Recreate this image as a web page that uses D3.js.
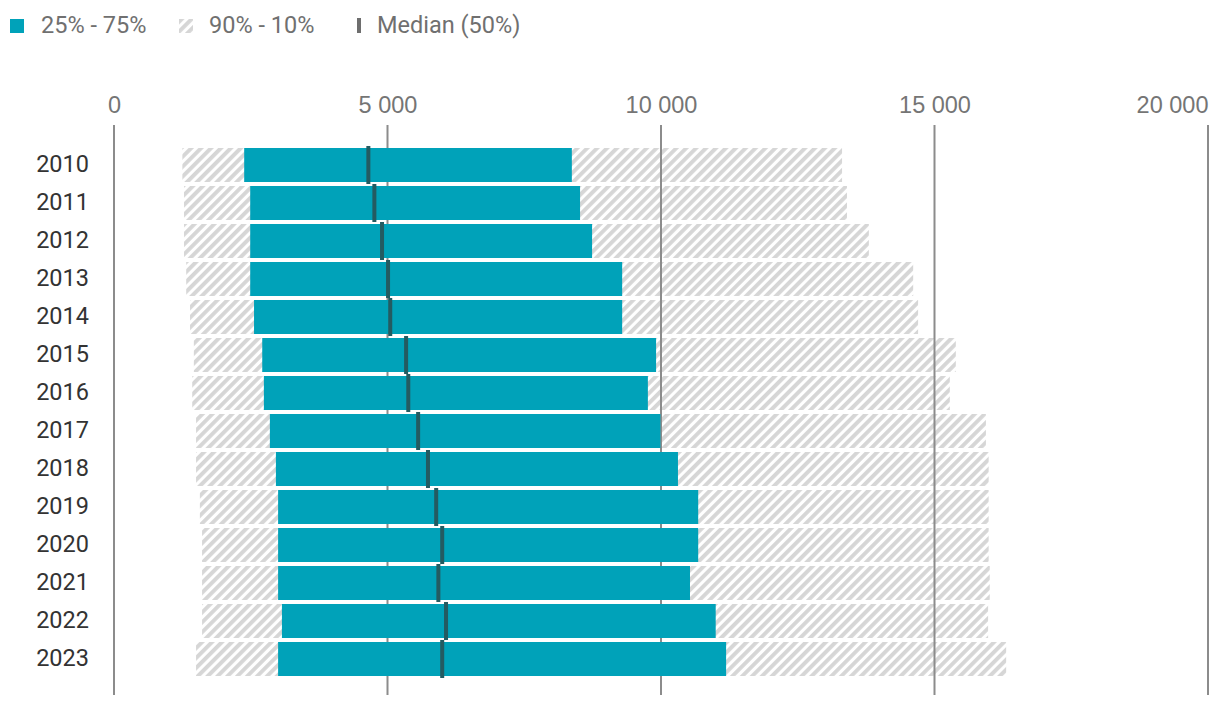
<!DOCTYPE html>
<html>
<head>
<meta charset="utf-8">
<script src="https://cdn.jsdelivr.net/npm/d3@7"></script>
<style>
  body { margin: 0; background: #fff; font-family: Roboto, "Noto Sans", sans-serif; }
  .axis text { fill: #757575; font-size: 23.5px; }
  .axis .domain { display: none; }
  .years text { fill: #333; font-size: 23.5px; }
  .legend text { fill: #707070; font-size: 23.5px; }
</style>
</head>
<body>
<div class="chart-container"></div>
<script>
// values
var years = ["2010","2011","2012","2013","2014","2015","2016","2017","2018","2019","2020","2021","2022","2023"]
var p10 = [1250,1280,1280,1320,1390,1460,1430,1500,1500,1570,1610,1610,1610,1500]
var p25 = [2380,2490,2490,2490,2560,2710,2740,2850,2960,3000,3000,3000,3070,3000]
var p50 = [4650,4760,4900,5010,5050,5340,5380,5560,5740,5890,6000,5930,6070,6000]
var p75 = [8370,8520,8740,9290,9290,9910,9760,9990,10310,10680,10680,10530,11000,11190]
var p90 = [13310,13400,13800,14610,14700,15390,15280,15940,15990,15990,15990,16010,15980,16310]
var tick_values = [0,5000,10000,15000,20000]
var legend_labels = ["25% - 75%","90% - 10%","Median (50%)"]

var width = 1220
var height = 706
var teal = "#00a2b9"
var median_color = "#245b61"
var grid_color = "#8c8c8c"

var rows = years.map(function(y,i){
    return {year: y, p10: p10[i], p25: p25[i], p50: p50[i], p75: p75[i], p90: p90[i]}
})

var locale = d3.formatLocale({decimal: ",", thousands: " ", grouping: [3], currency: ["",""]})
var num_format = locale.format(",d")

var x_scale = d3.scaleLinear()
                .domain([0,20000])
                .range([114,1208])
var y_scale = d3.scaleBand()
                .domain(years)
                .range([146,678])
                .paddingInner(0.105)
                .paddingOuter(0.0525)

var svg = d3.select('.chart-container')
    .append('svg')
    .attr('width',width)
    .attr('height',height)

// hatch pattern for the 10-90 range
var defs = svg.append('defs')
defs.append('pattern')
    .attr('id','hatch')
    .attr('patternUnits','userSpaceOnUse')
    .attr('width',7)
    .attr('height',7)
    .attr('patternTransform','rotate(45)')
    .append('rect')
    .attr('x',0)
    .attr('y',0)
    .attr('width',3.9)
    .attr('height',7)
    .attr('fill','#d6d6d6')

// legend
var legend = svg.append('g').attr('class','legend')
legend.append('rect').attr('x',10).attr('y',19).attr('width',14).attr('height',14).attr('fill',teal)
legend.append('rect').attr('x',179).attr('y',19).attr('width',14).attr('height',14).attr('fill','url(#hatch)')
legend.append('rect').attr('x',357).attr('y',18).attr('width',4).attr('height',15).attr('fill','#6e6e6e')
legend.selectAll('text')
    .data(legend_labels)
    .enter()
    .append('text')
    .attr('x',function(d,i){return [41,209,377][i]})
    .attr('y',33)
    .text(function(d){return d})

// top axis labels
var axis = svg.append('g')
    .attr('class','axis')
    .attr('transform','translate(0,113)')
    .call(d3.axisTop(x_scale).tickValues(tick_values).tickSize(0).tickPadding(0).tickFormat(num_format))
axis.selectAll('text')
    .attr('text-anchor',function(d,i){return i==tick_values.length-1 ? 'end' : 'middle'})

// 10-90 hatched bars
svg.append('g')
    .selectAll('rect')
    .data(rows)
    .enter()
    .append('rect')
    .attr('x',function(d){return x_scale(d.p10)})
    .attr('y',function(d){return y_scale(d.year)})
    .attr('width',function(d){return x_scale(d.p90)-x_scale(d.p10)})
    .attr('height',y_scale.bandwidth())
    .attr('fill','url(#hatch)')

// gridlines, over the hatch but under the 25-75 bars
svg.append('g')
    .attr('class','grid')
    .selectAll('line')
    .data(tick_values)
    .enter()
    .append('line')
    .attr('x1',function(d){return x_scale(d)})
    .attr('x2',function(d){return x_scale(d)})
    .attr('y1',125)
    .attr('y2',695)
    .attr('stroke',grid_color)
    .attr('stroke-width',2)

// 25-75 bars
svg.append('g')
    .selectAll('rect')
    .data(rows)
    .enter()
    .append('rect')
    .attr('x',function(d){return x_scale(d.p25)})
    .attr('y',function(d){return y_scale(d.year)})
    .attr('width',function(d){return x_scale(d.p75)-x_scale(d.p25)})
    .attr('height',y_scale.bandwidth())
    .attr('fill',teal)

// medians
svg.append('g')
    .selectAll('rect')
    .data(rows)
    .enter()
    .append('rect')
    .attr('x',function(d){return x_scale(d.p50)-2})
    .attr('y',function(d){return y_scale(d.year)-2})
    .attr('width',4)
    .attr('height',y_scale.bandwidth()+4)
    .attr('fill',median_color)

// year labels
svg.append('g')
    .attr('class','years')
    .selectAll('text')
    .data(years)
    .enter()
    .append('text')
    .attr('x',89)
    .attr('y',function(d){return y_scale(d)+y_scale.bandwidth()/2})
    .attr('dy','0.31em')
    .attr('text-anchor','end')
    .text(function(d){return d})
</script>
</body>
</html>
